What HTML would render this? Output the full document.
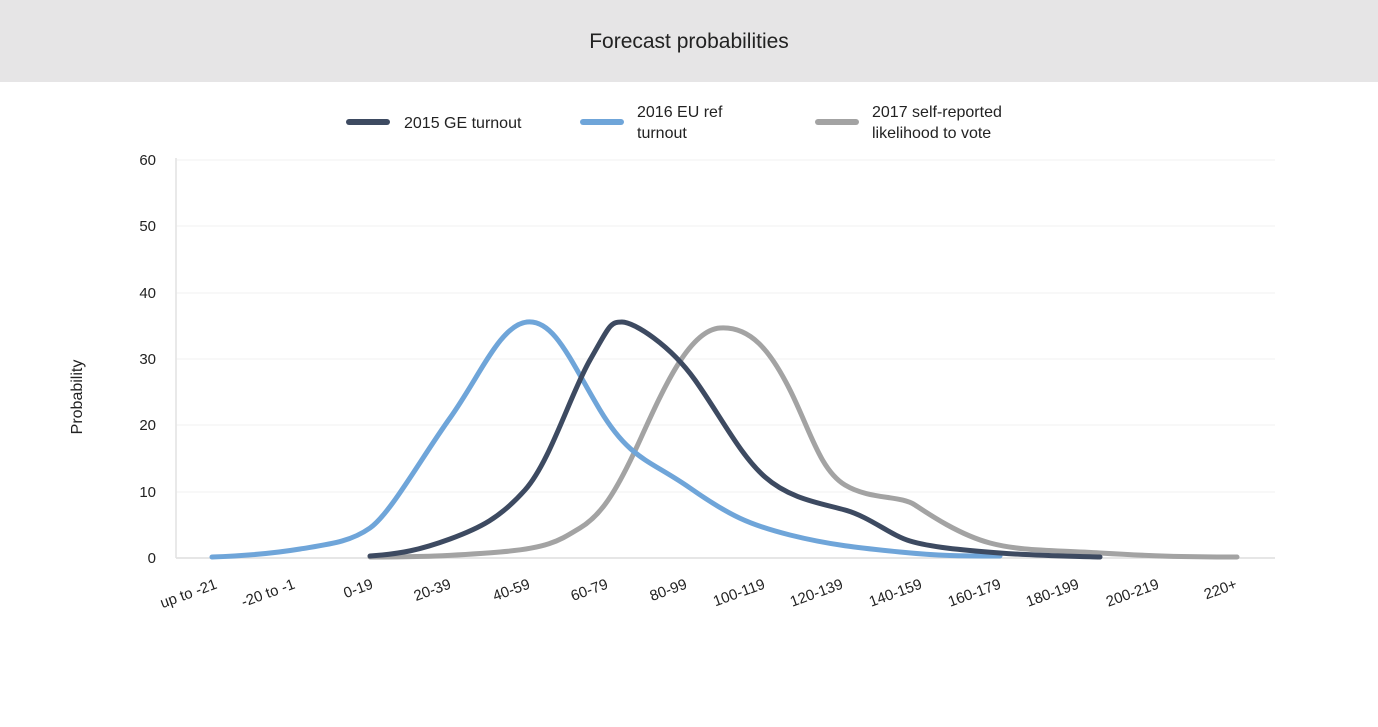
<!DOCTYPE html>
<html><head><meta charset="utf-8"><style>
body{margin:0;width:1378px;height:722px;background:#fff;overflow:hidden;font-family:"Liberation Sans",sans-serif}
</style></head><body>
<svg width="1378" height="722" xmlns="http://www.w3.org/2000/svg" font-family="Liberation Sans, sans-serif">
<rect x="0" y="0" width="1378" height="82" fill="#e6e5e6"/>
<text x="689" y="48" text-anchor="middle" font-size="21" fill="#222">Forecast probabilities</text>
<g stroke-width="6" stroke-linecap="round">
<line x1="349" y1="122" x2="387" y2="122" stroke="#3d4a61"/>
<line x1="583" y1="122" x2="621" y2="122" stroke="#6fa5d9"/>
<line x1="818" y1="122" x2="856" y2="122" stroke="#a3a3a3"/>
</g>
<g font-size="16" fill="#222">
<text x="404" y="128">2015 GE turnout</text>
<text x="637" y="117">2016 EU ref</text><text x="637" y="138">turnout</text>
<text x="872" y="117">2017 self-reported</text><text x="872" y="138">likelihood to vote</text>
</g>
<g stroke="#f2f2f2" stroke-width="1">
<line x1="176" y1="160" x2="1275" y2="160"/><line x1="176" y1="226" x2="1275" y2="226"/>
<line x1="176" y1="293" x2="1275" y2="293"/><line x1="176" y1="359" x2="1275" y2="359"/>
<line x1="176" y1="425" x2="1275" y2="425"/><line x1="176" y1="492" x2="1275" y2="492"/>
</g>
<line x1="176" y1="558" x2="1275" y2="558" stroke="#ddd" stroke-width="1.5"/>
<line x1="176" y1="158" x2="176" y2="558" stroke="#e2e2e2" stroke-width="1.5"/>
<g font-size="15" fill="#222" text-anchor="end">
<text x="156" y="165">60</text><text x="156" y="231">50</text><text x="156" y="298">40</text>
<text x="156" y="364">30</text><text x="156" y="430">20</text><text x="156" y="497">10</text><text x="156" y="563">0</text>
</g>
<text transform="translate(82,397) rotate(-90)" text-anchor="middle" font-size="16" fill="#222">Probability</text>
<g font-size="15" fill="#222" text-anchor="end">
<text transform="translate(218,588) rotate(-20)">up to -21</text>
<text transform="translate(296,588) rotate(-20)">-20 to -1</text>
<text transform="translate(374,588) rotate(-20)">0-19</text>
<text transform="translate(452,588) rotate(-20)">20-39</text>
<text transform="translate(531,588) rotate(-20)">40-59</text>
<text transform="translate(609,588) rotate(-20)">60-79</text>
<text transform="translate(688,588) rotate(-20)">80-99</text>
<text transform="translate(766,588) rotate(-20)">100-119</text>
<text transform="translate(844,588) rotate(-20)">120-139</text>
<text transform="translate(923,588) rotate(-20)">140-159</text>
<text transform="translate(1002,588) rotate(-20)">160-179</text>
<text transform="translate(1080,588) rotate(-20)">180-199</text>
<text transform="translate(1160,588) rotate(-20)">200-219</text>
<text transform="translate(1238,588) rotate(-20)">220+</text>
</g>
<g fill="none" stroke-width="5" stroke-linecap="round" stroke-linejoin="round">
<path stroke="#a3a3a3" d="M370,557 C420,557 450,556 500,552 S560,540 580,528 S615,495 640,440 S690,330 720,328 S770,350 790,390 S820,470 845,485 S900,495 915,505 S960,535 990,543 S1050,550 1100,553 S1180,557 1237,557"/>
<path stroke="#6fa5d9" d="M212,557 C240,556 270,554 300,549 S350,542 370,528 S420,460 450,418 S500,325 527,322 S570,360 600,410 S650,460 690,488 S750,525 790,535 S860,548 900,552 S960,556 1000,556"/>
<path stroke="#3d4a61" d="M370,556 C400,554 420,550 450,539 S500,518 525,490 S570,395 590,360 S610,322 622,322 S670,345 695,380 S740,455 765,477 S820,503 845,510 S890,535 910,541 S960,550 1000,553 S1070,556 1100,557"/>
</g>
</svg>
</body></html>
